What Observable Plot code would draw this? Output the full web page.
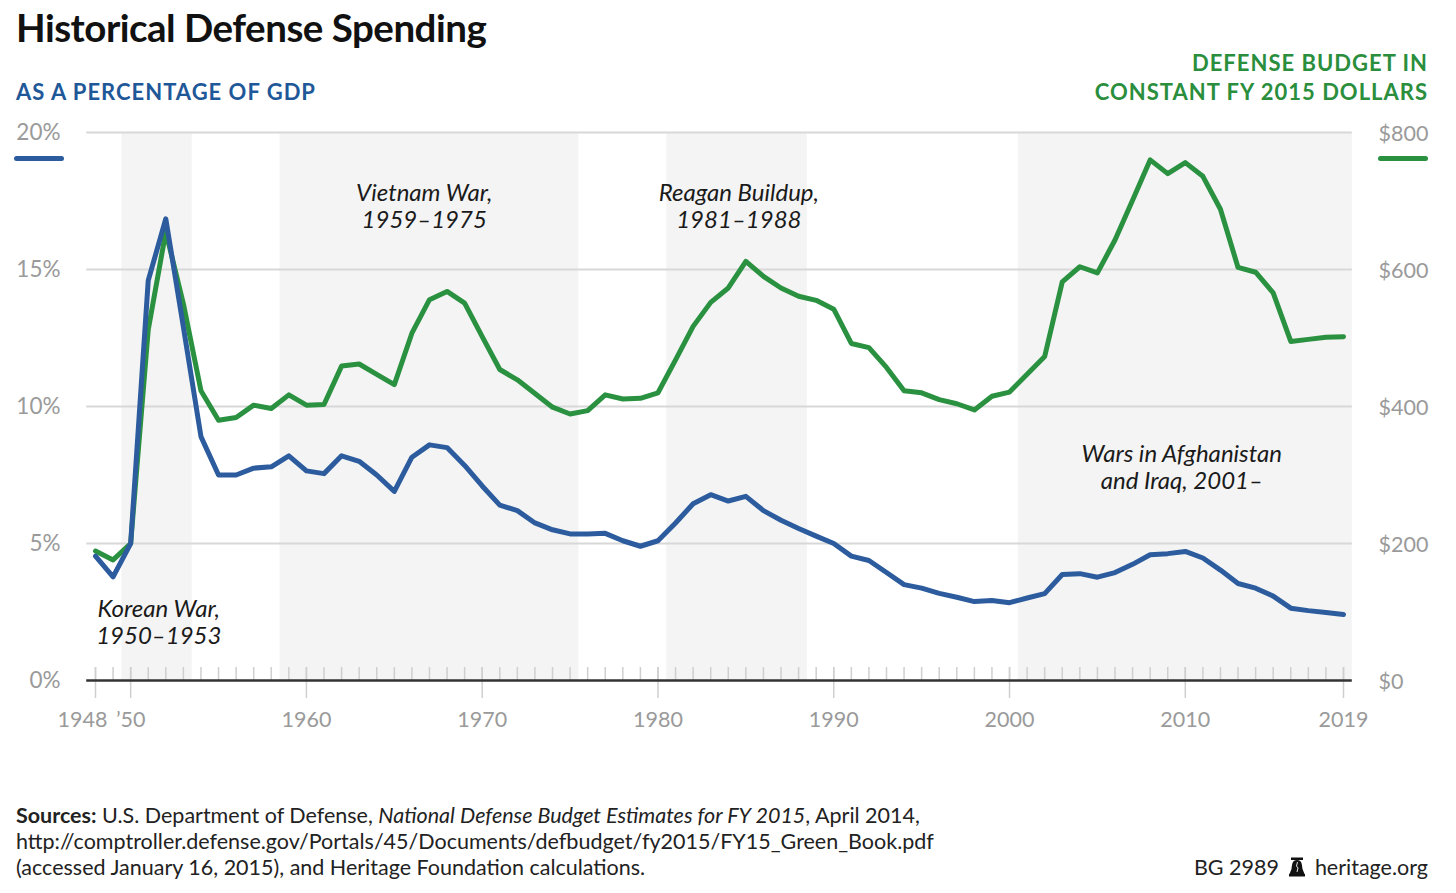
<!DOCTYPE html>
<html>
<head>
<meta charset="utf-8">
<script src="https://cdn.jsdelivr.net/npm/d3@7"></script>
<script src="https://cdn.jsdelivr.net/npm/@observablehq/plot@0.6"></script>
<style>
  body { margin: 0; background: #fff; font-family: Lato, "Open Sans", sans-serif; }
  #wrap { position: relative; width: 1456px; height: 893px; overflow: hidden; background: #fff; }
  #chart { position: absolute; left: 0; top: 0; }
  .abs { position: absolute; white-space: nowrap; }
  .title { left: 16px; top: 8px; font-size: 38.5px; line-height: 38px; font-weight: 700; color: #111; letter-spacing: -0.5px; }
  .subL { left: 16px; top: 81px; font-size: 22px; line-height: 22px; font-weight: 700; color: #1f5898; letter-spacing: 1px; }
  .subR { right: 28px; top: 48px; font-size: 22px; line-height: 29px; font-weight: 700; color: #2a8e3d; text-align: right; letter-spacing: 1px; }
  .key { width: 50px; height: 5px; border-radius: 3px; }
  .foot { left: 16px; top: 802px; font-size: 21.5px; line-height: 26px; color: #222; }
  .footR { right: 28px; top: 854px; font-size: 21.5px; line-height: 26px; color: #222; display: flex; align-items: center; gap: 9px; }
</style>
</head>
<body>
<div id="wrap">
  <div id="chart"></div>
  <div class="abs title">Historical Defense Spending</div>
  <div class="abs subL">AS A PERCENTAGE OF GDP</div>
  <div class="abs subR">DEFENSE BUDGET IN<br>CONSTANT FY 2015 DOLLARS</div>
  <div class="abs key" style="left:14px;top:156px;background:#2c5c9e;"></div>
  <div class="abs key" style="left:1378px;top:156px;background:#2a9140;"></div>
  <div class="abs foot"><b>Sources:</b> U.S. Department of Defense, <i>National Defense Budget Estimates for FY 2015</i>, April 2014,<br>http://comptroller.defense.gov/Portals/45/Documents/defbudget/fy2015/FY15_Green_Book.pdf<br>(accessed January 16, 2015), and Heritage Foundation calculations.</div>
  <div class="abs footR"><span>BG 2989</span><svg width="18" height="20" viewBox="0 0 18 20"><rect x="3" y="0.5" width="12" height="2.5" fill="#111"/><path d="M9 3 C4 3 4 8 3.5 12 L1.5 17 L16.5 17 L14.5 12 C14 8 14 3 9 3 Z" fill="#111"/><rect x="1" y="17" width="16" height="2.5" fill="#111"/><path d="M9.5 5 L8.5 9 L10 11 L9 15" stroke="#fff" stroke-width="0.9" fill="none"/></svg><span>heritage.org</span></div>
</div>
<script>
// ---- data ----
const years = d3.range(1948, 2020);
const gdpPct = [
  4.54, 3.78, 5.0, 14.6, 16.85, 12.9, 8.9, 7.5, 7.5, 7.75,
  7.8, 8.2, 7.65, 7.55, 8.2, 8.0, 7.5, 6.9, 8.15, 8.6,
  8.5, 7.85, 7.1, 6.4, 6.2, 5.75, 5.5, 5.35, 5.35, 5.37,
  5.1, 4.9, 5.1, 5.75, 6.45, 6.78, 6.55, 6.72, 6.2, 5.85,
  5.55, 5.27, 5.0, 4.54, 4.38, 3.94, 3.5, 3.37, 3.18, 3.04,
  2.88, 2.92, 2.84, 3.01, 3.17, 3.87, 3.9, 3.77, 3.94, 4.24,
  4.59, 4.63, 4.71, 4.47, 4.03, 3.54, 3.37, 3.08, 2.64, 2.55,
  2.48, 2.41
];
const budgetBillions = [
  189, 176, 200, 512, 655, 550, 423, 380, 384, 402,
  397, 417, 402, 403, 459, 462, 447, 432, 507, 556,
  568, 551, 502, 454, 439, 419, 399, 389, 394, 417,
  411, 412, 420, 468, 517, 552, 573, 612, 590, 573,
  561, 555, 542, 492, 486, 457, 423, 420, 410, 404,
  395, 415, 421, 447, 473, 582, 604, 595, 643, 701,
  760, 740, 756, 736, 688, 603, 596, 566, 495, 498,
  501, 502
];
const warNames = ["Korean War", "Vietnam War", "Reagan Buildup", "Wars in Afghanistan and Iraq"];
const warStart = [1950, 1959, 1981, 2001];
const warEnd = [1953, 1975, 1988, 2019];
const annotationText = ["Korean War,\n1950–1953", "Vietnam War,\n1959–1975", "Reagan Buildup,\n1981–1988", "Wars in Afghanistan\nand Iraq, 2001–"];
const annotationYear = [1951.6, 1966.7, 1984.6, 2009.8];
const annotationPct = [2.13, 17.32, 17.32, 7.81];
const pctTicks = [0, 5, 10, 15, 20];
const dollarTicks = [0, 200, 400, 600, 800];
const yearTicks = [1948, 1950, 1960, 1970, 1980, 1990, 2000, 2010, 2019];
const yearTickLabels = ["1948", "’50", "1960", "1970", "1980", "1990", "2000", "2010", "2019"];

// ---- derived tables ----
const rows = years.map((yr, i) => ({year: yr, pct: gdpPct[i], budget: budgetBillions[i]}));
const wars = warNames.map((n, i) => ({name: n, start: warStart[i], end: warEnd[i]}));
const notes = annotationText.map((t, i) => ({text: t, year: annotationYear[i], pct: annotationPct[i]}));
const dollarsPerPct = dollarTicks[dollarTicks.length - 1] / pctTicks[pctTicks.length - 1];
const labelFor = d => yearTickLabels[yearTicks.indexOf(d)];

const BLUE = "#2c5c9e", GREEN = "#2a9140", GREY = "#9a9a9a", TICK = "#cfcfcf";

const chart = Plot.plot({
  width: 1456,
  height: 893,
  marginLeft: 95,
  marginRight: 113,
  marginTop: 132,
  marginBottom: 213,
  x: {domain: [1948, 2019]},
  y: {domain: [0, 20]},
  style: {fontFamily: "Lato, 'Open Sans', sans-serif", background: "transparent", overflow: "visible"},
  marks: [
    Plot.rect(wars, {x1: d => d.start - 0.5, x2: d => d.end + 0.5, y1: 0, y2: 20, fill: "#f4f4f4"}),
    Plot.ruleY(pctTicks.filter(d => d > 0), {x1: 1947.5, x2: 2019.5, stroke: "#d8d8d8", strokeWidth: 2}),
    // minor (yearly) ticks above the baseline
    Plot.axisX(years, {anchor: "bottom", tickSize: 13, dy: -13, text: null, label: null, stroke: TICK, strokeWidth: 1.5}),
    // major ticks crossing the baseline
    Plot.axisX(yearTicks, {anchor: "bottom", tickSize: 31, dy: -13, text: null, label: null, stroke: TICK, strokeWidth: 1.5}),
    // year labels
    Plot.axisX([1948], {anchor: "bottom", tickSize: 0, tickPadding: 31, dx: -13, label: null,
      tickFormat: labelFor, fill: GREY, fontSize: 21.5}),
    Plot.axisX(yearTicks.slice(1), {anchor: "bottom", tickSize: 0, tickPadding: 31, label: null,
      tickFormat: labelFor, fill: GREY, fontSize: 21.5}),
    Plot.ruleY([0], {x1: 1947.5, x2: 2019.5, stroke: "#333", strokeWidth: 2.5}),
    Plot.axisY(pctTicks, {anchor: "left", tickSize: 0, tickPadding: 35, label: null,
      tickFormat: d => d + "%", fill: GREY, fontSize: 22.5}),
    Plot.axisY(pctTicks, {anchor: "right", tickSize: 0, tickPadding: 35, dy: 2, label: null,
      tickFormat: d => "$" + (d * dollarsPerPct), fill: GREY, fontSize: 21.5}),
    Plot.line(rows, {x: "year", y: d => d.budget / dollarsPerPct, stroke: GREEN, strokeWidth: 5, strokeLinejoin: "round", strokeLinecap: "round"}),
    Plot.line(rows, {x: "year", y: "pct", stroke: BLUE, strokeWidth: 5, strokeLinejoin: "round", strokeLinecap: "round"}),
    Plot.text(notes, {x: "year", y: "pct", text: "text", fontSize: 24, fontStyle: "italic", lineHeight: 1.13, fill: "#1a1a1a"})
  ]
});
document.getElementById("chart").appendChild(chart);
</script>
</body>
</html>
